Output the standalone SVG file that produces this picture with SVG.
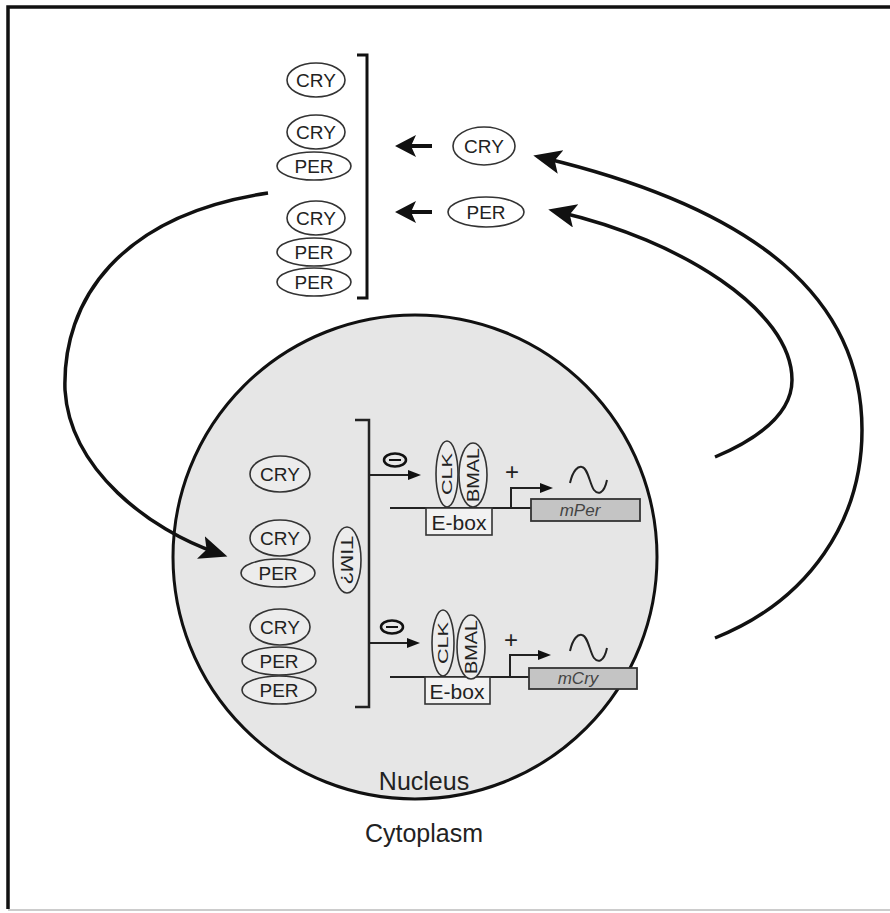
<svg xmlns="http://www.w3.org/2000/svg" width="890" height="913" viewBox="0 0 890 913">
<style>
.t{font-family:"Liberation Sans",Arial,sans-serif;fill:#222;text-anchor:middle}
.p{font-size:19px}
.el{fill:#fff;stroke:#333;stroke-width:1.6}
.eln{fill:#ececec;stroke:#333;stroke-width:1.6}
.thin{fill:none;stroke:#222;stroke-width:2}
.curve{fill:none;stroke:#111;stroke-width:3.5}
.gene{fill:#c4c4c4;stroke:#333;stroke-width:1.8}
.gt{font-family:"Liberation Sans",Arial,sans-serif;font-style:italic;font-size:17px;fill:#444;text-anchor:middle}
</style>
<defs>
<marker id="big" markerUnits="userSpaceOnUse" markerWidth="30" markerHeight="26" refX="17" refY="12" orient="auto">
<path d="M0,0 L28,12 L0,24 L6,12 z" fill="#111"/>
</marker>
<marker id="sm" markerUnits="userSpaceOnUse" markerWidth="14" markerHeight="12" refX="6" refY="5" orient="auto">
<path d="M0,0 L13,5 L0,10 z" fill="#111"/>
</marker>
</defs>
<rect width="890" height="913" fill="#fff"/>
<path d="M892,7 H8 V909" fill="none" stroke="#111" stroke-width="3.5"/>
<line x1="8" y1="910" x2="890" y2="910" stroke="#bbb" stroke-width="1.5"/>

<g id="nucleus">
<circle cx="415" cy="557" r="242" fill="#e6e6e6" stroke="#111" stroke-width="3"/>
<text class="t" x="424" y="790" font-size="25">Nucleus</text>
</g>
<text id="cytoplasm" class="t" x="424" y="842" font-size="25">Cytoplasm</text>

<g id="cyto-complexes">
<ellipse class="el" cx="316" cy="80" rx="29" ry="17"/><text class="t p" x="316" y="87">CRY</text>
<ellipse class="el" cx="316" cy="132" rx="29" ry="17"/><text class="t p" x="316" y="139">CRY</text>
<ellipse class="el" cx="314" cy="166" rx="37" ry="14"/><text class="t p" x="314" y="173">PER</text>
<ellipse class="el" cx="316" cy="218" rx="29" ry="17"/><text class="t p" x="316" y="225">CRY</text>
<ellipse class="el" cx="314" cy="252" rx="37" ry="14"/><text class="t p" x="314" y="259">PER</text>
<ellipse class="el" cx="314" cy="282" rx="37" ry="14"/><text class="t p" x="314" y="289">PER</text>
<path d="M357,55 H367 V298 H357" fill="none" stroke="#111" stroke-width="3"/>
</g>
<g id="cry-free">
<ellipse class="el" cx="484" cy="146" rx="31" ry="19"/><text class="t p" x="484" y="153">CRY</text>
</g>
<g id="per-free">
<ellipse class="el" cx="486" cy="212" rx="38" ry="15"/><text class="t p" x="486" y="219">PER</text>
</g>

<g id="nuc-complexes">
<ellipse class="eln" cx="280" cy="474" rx="30" ry="18"/><text class="t p" x="280" y="481">CRY</text>
<ellipse class="eln" cx="280" cy="538" rx="30" ry="18"/><text class="t p" x="280" y="545">CRY</text>
<ellipse class="eln" cx="278" cy="573" rx="37" ry="14"/><text class="t p" x="278" y="580">PER</text>
<ellipse class="eln" cx="280" cy="627" rx="30" ry="18"/><text class="t p" x="280" y="634">CRY</text>
<ellipse class="eln" cx="279" cy="661" rx="37" ry="14"/><text class="t p" x="279" y="668">PER</text>
<ellipse class="eln" cx="279" cy="690" rx="37" ry="14"/><text class="t p" x="279" y="697">PER</text>
</g>
<g id="tim">
<ellipse class="eln" cx="347" cy="560" rx="14" ry="33"/>
<text class="t" font-size="16" transform="translate(341,560) rotate(90)" textLength="48" lengthAdjust="spacingAndGlyphs" y="0" x="0">TIM?</text>
</g>
<path id="nuc-bracket" d="M355,420 H369 V707 H355" fill="none" stroke="#222" stroke-width="2.5"/>

<g id="gene-per">
<ellipse cx="395" cy="460" rx="11" ry="6.5" fill="none" stroke="#111" stroke-width="2.5"/>
<line x1="389" y1="460" x2="401" y2="460" stroke="#111" stroke-width="2"/>
<line x1="390" y1="508" x2="531" y2="508" stroke="#222" stroke-width="2"/>
<rect x="426" y="508" width="66" height="27" fill="#f2f2f2" stroke="#333" stroke-width="1.6"/>
<text class="t" x="459" y="530" font-size="21">E-box</text>
<ellipse class="eln" cx="447" cy="474" rx="11" ry="33"/>
<text class="t" font-size="15" transform="translate(452,474) rotate(-90)" x="0" y="0" textLength="42" lengthAdjust="spacingAndGlyphs">CLK</text>
<ellipse class="eln" cx="473" cy="475" rx="14" ry="32"/>
<text class="t" font-size="17" transform="translate(479,475) rotate(-90)" x="0" y="0" textLength="54" lengthAdjust="spacingAndGlyphs">BMAL</text>
<text class="t" x="512" y="480" font-size="24">+</text>
<path class="thin" d="M511,508 V488 H546" marker-end="url(#sm)"/>
<path class="thin" d="M570,483 C573,470 578,466 582,467 C588,468 590,485 594,490 C598,495 604,494 607,480"/>
<rect class="gene" x="531" y="499" width="109" height="22"/>
<text class="gt" x="580" y="516">mPer</text>
</g>

<g id="gene-cry">
<ellipse cx="392" cy="627" rx="11" ry="6.5" fill="none" stroke="#111" stroke-width="2.5"/>
<line x1="386" y1="627" x2="398" y2="627" stroke="#111" stroke-width="2"/>
<line x1="390" y1="677" x2="529" y2="677" stroke="#222" stroke-width="2"/>
<rect x="425" y="677" width="65" height="27" fill="#f2f2f2" stroke="#333" stroke-width="1.6"/>
<text class="t" x="457" y="699" font-size="21">E-box</text>
<ellipse class="eln" cx="443" cy="643" rx="11" ry="33"/>
<text class="t" font-size="15" transform="translate(448,643) rotate(-90)" x="0" y="0" textLength="42" lengthAdjust="spacingAndGlyphs">CLK</text>
<ellipse class="eln" cx="471" cy="647" rx="14" ry="32"/>
<text class="t" font-size="17" transform="translate(477,647) rotate(-90)" x="0" y="0" textLength="54" lengthAdjust="spacingAndGlyphs">BMAL</text>
<text class="t" x="511" y="648" font-size="24">+</text>
<path class="thin" d="M510,677 V655 H544" marker-end="url(#sm)"/>
<path class="thin" d="M570,651 C573,638 578,634 582,635 C588,636 590,653 594,658 C598,663 604,662 607,648"/>
<rect class="gene" x="529" y="668" width="108" height="21"/>
<text class="gt" x="578" y="684">mCry</text>
</g>

<g id="connectors">
<path class="curve" d="M268,193 C120,215 62,300 65,390 C70,470 150,530 217,553" marker-end="url(#big)"/>
<path class="curve" d="M715,638 C810,600 862,520 862,430 C862,300 760,210 544,158" marker-end="url(#big)"/>
<path class="curve" d="M715,457 C755,440 792,415 792,380 C792,310 680,240 559,212" marker-end="url(#big)"/>
<line x1="432" y1="146" x2="405" y2="146" stroke="#111" stroke-width="4"/>
<polygon points="395,146 416,135 411,146 416,157" fill="#111"/>
<line x1="432" y1="212" x2="405" y2="212" stroke="#111" stroke-width="4"/>
<polygon points="395,212 416,201 411,212 416,223" fill="#111"/>
<line x1="369" y1="475" x2="414" y2="475" stroke="#222" stroke-width="2" marker-end="url(#sm)"/>
<line x1="369" y1="643" x2="413" y2="643" stroke="#222" stroke-width="2" marker-end="url(#sm)"/>
</g>
</svg>
